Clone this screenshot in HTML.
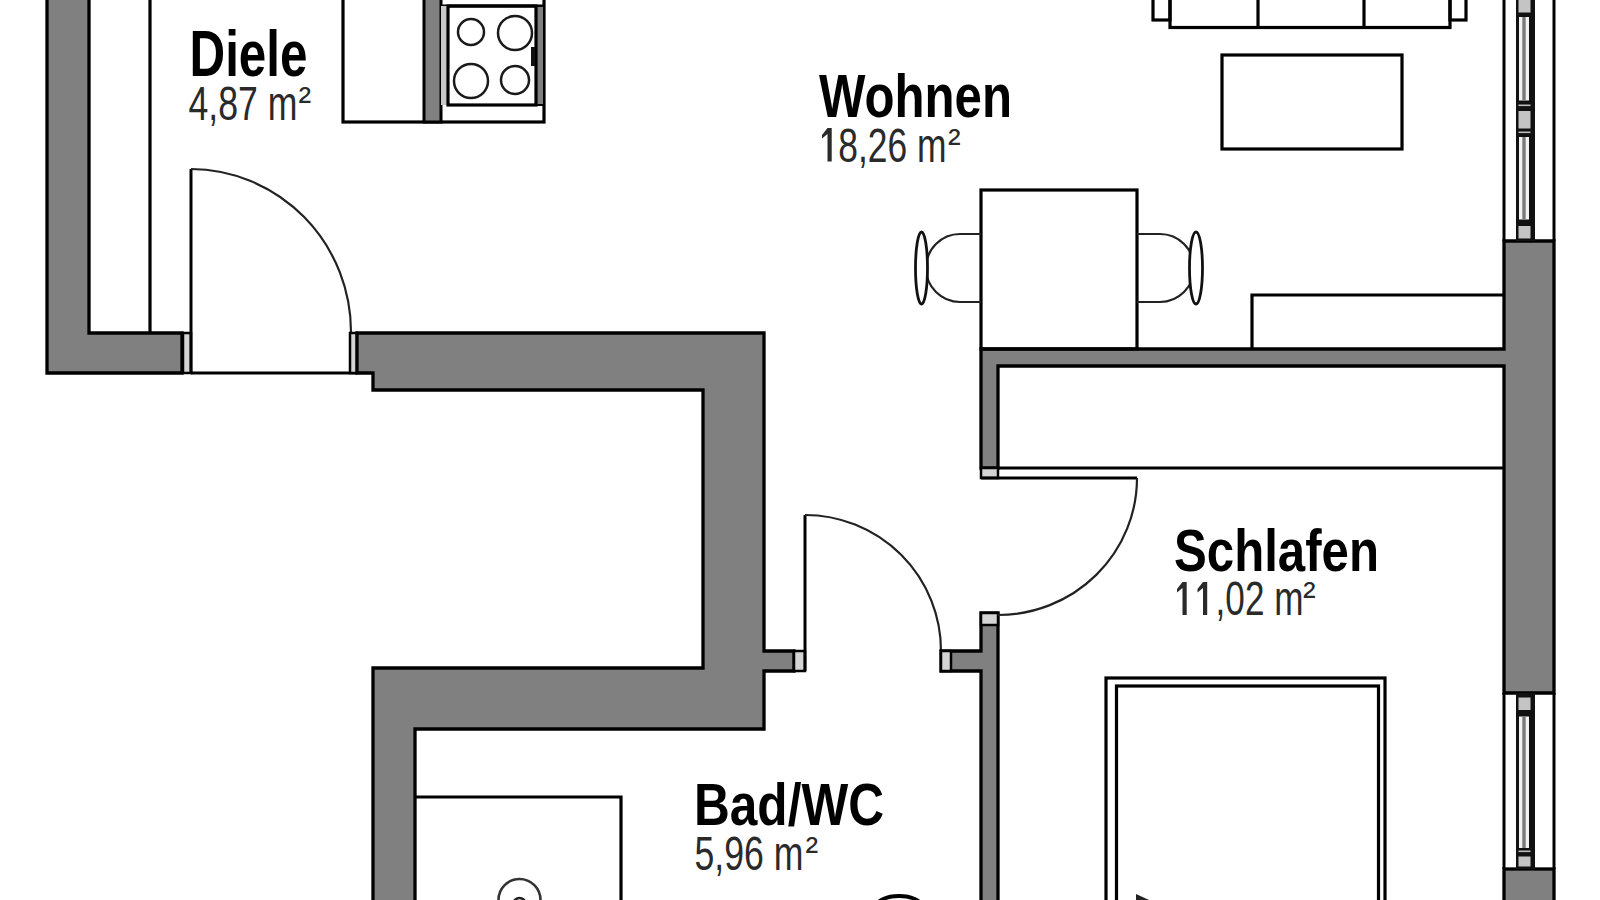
<!DOCTYPE html>
<html><head><meta charset="utf-8">
<style>
html,body{margin:0;padding:0;background:#fff;width:1600px;height:900px;overflow:hidden}
svg{display:block}
.w{fill:#808080;stroke:#000;stroke-width:3.3;stroke-linejoin:miter}
.j{fill:#d4d4d4;stroke:#000;stroke-width:2.5}
.l{fill:none;stroke:#000;stroke-width:3}
.t{fill:none;stroke:#000;stroke-width:3.2}
.c{fill:none;stroke:#1a1a1a;stroke-width:2.5}
.cb{fill:#fff;stroke:#111;stroke-width:2.8}
.a{fill:none;stroke:#222;stroke-width:2.2}
.nm{font-family:"Liberation Sans",sans-serif;font-weight:bold;fill:#000}
.ar{font-family:"Liberation Sans",sans-serif;fill:#2a2a2a}
.one{fill:#2a2a2a}
</style></head>
<body>
<svg width="1600" height="900" viewBox="0 0 1600 900">
<rect width="1600" height="900" fill="#fff"/>

<!-- Diele left wall -->
<polygon class="w" points="47,-10 89,-10 89,333 182,333 182,373 47,373"/>
<rect class="j" x="183" y="333" width="8" height="40"/>
<line class="t" x1="150" y1="-10" x2="150" y2="333"/>

<!-- Diele door -->
<line class="l" x1="191" y1="169" x2="191" y2="373"/>
<path class="a" d="M191,169 A161,163 0 0 1 351,332"/>
<line class="l" x1="191" y1="373" x2="357" y2="373"/>
<rect class="j" x="350" y="333" width="7" height="40"/>

<!-- big wall -->
<polygon class="w" points="357,333 764,333 764,651 794,651 794,671 764,671 764,729 415,729 415,910 373,910 373,668 703,668 703,390 373,390 373,373 357,373"/>
<rect class="j" x="794" y="651" width="11" height="20"/>

<!-- bath door -->
<line class="l" x1="805" y1="515" x2="805" y2="671"/>
<path class="a" d="M805,515 A136,136 0 0 1 941,651"/>

<!-- thin wall + stub -->
<polygon class="w" points="941,651 981,651 981,613 998,613 998,910 981,910 981,671 941,671"/>
<rect class="j" x="941" y="651" width="10" height="20"/>
<rect class="j" x="981" y="613" width="17" height="12"/>

<!-- closet wall -->
<polygon class="w" points="981,349 1504,349 1504,241 1554,241 1554,693 1504,693 1504,366 998,366 998,468 981,468"/>
<rect class="j" x="981" y="468" width="17" height="10"/>
<line class="t" x1="998" y1="468" x2="1504" y2="468"/>
<line class="l" x1="981" y1="478" x2="1137" y2="478"/>
<path class="a" d="M1137,478 A139,137 0 0 1 998,615"/>

<!-- right exterior wall -->
<rect class="w" x="1504" y="869" width="50" height="40"/>
<line class="l" x1="1504" y1="-10" x2="1504" y2="241"/>
<line class="l" x1="1554" y1="-10" x2="1554" y2="241"/>
<line class="l" x1="1504" y1="693" x2="1504" y2="869"/>
<line class="l" x1="1554" y1="693" x2="1554" y2="869"/>
<!-- windows -->
<rect x="1516" y="-10" width="19" height="251" fill="#111"/>
<rect x="1518.5" y="-10" width="12" height="22.5" fill="#c4c4c4"/>
<rect x="1518.5" y="111" width="12" height="17.5" fill="#c4c4c4"/>
<rect x="1518.5" y="226" width="12" height="12.5" fill="#c4c4c4"/>
<rect x="1519" y="17" width="10" height="83.5" fill="#f2f2f2"/>
<rect x="1522.3" y="17" width="3.4" height="83.5" fill="#7a7a7a"/>
<rect x="1519" y="137" width="10" height="82.5" fill="#f2f2f2"/>
<rect x="1522.3" y="137" width="3.4" height="82.5" fill="#7a7a7a"/>
<rect x="1518.5" y="104.5" width="12" height="1.6" fill="#bbb"/>
<rect x="1518.5" y="131.5" width="12" height="1.6" fill="#bbb"/>
<rect x="1516" y="693" width="19" height="176" fill="#111"/>
<rect x="1518.5" y="697.5" width="12" height="12.5" fill="#c4c4c4"/>
<rect x="1518.5" y="856.5" width="12" height="10.0" fill="#c4c4c4"/>
<rect x="1519" y="716.5" width="10" height="131.5" fill="#f2f2f2"/>
<rect x="1522.3" y="716.5" width="3.4" height="131.5" fill="#7a7a7a"/>
<rect x="1518.5" y="850.5" width="12" height="1.6" fill="#bbb"/>
<!-- kitchen counter -->
<rect class="t" x="343" y="-10" width="201" height="132"/>
<rect x="424" y="-10" width="17" height="132" fill="#808080" stroke="#000" stroke-width="3"/>
<line class="t" x1="441" y1="6" x2="544" y2="6"/>
<rect x="441" y="6" width="7" height="99" fill="#c8c8c8"/>
<rect x="536" y="6" width="8" height="99" fill="#808080" stroke="#000" stroke-width="2"/>
<rect class="t" x="448" y="6" width="88" height="99"/>
<circle class="c" cx="471" cy="32" r="13"/>
<circle class="c" cx="515" cy="33" r="17"/>
<circle class="c" cx="471" cy="81" r="17"/>
<circle class="c" cx="515" cy="80" r="14"/>
<rect x="531" y="47" width="4" height="19" fill="#111"/>

<!-- sofa -->
<rect class="t" x="1153" y="-10" width="17" height="30"/>
<rect class="t" x="1450" y="-10" width="16" height="30"/>
<rect class="t" x="1170" y="-10" width="280" height="37.5"/>
<line class="t" x1="1258" y1="-10" x2="1258" y2="27"/>
<line class="t" x1="1364" y1="-10" x2="1364" y2="27"/>
<!-- coffee table -->
<rect class="t" x="1222" y="55" width="180" height="94"/>

<!-- dining table -->
<rect class="t" x="981" y="190" width="156" height="159"/>
<path class="a" d="M981,234 H960 A34,34 0 0 0 960,302 H981"/>

<path class="a" d="M1137,234 H1160 A34,34 0 0 1 1160,302 H1137"/>
<ellipse class="cb" cx="921.5" cy="268" rx="6" ry="36"/>
<ellipse class="cb" cx="1196" cy="268" rx="6.5" ry="36"/>
<!-- sideboard -->
<polyline class="t" points="1252,349 1252,295 1504,295"/>

<!-- shower -->
<polyline class="t" points="415,797 621,797 621,910"/>
<circle cx="519.5" cy="900" r="21" fill="none" stroke="#333" stroke-width="2.6"/>
<circle cx="519.5" cy="904" r="6" fill="none" stroke="#222" stroke-width="2.5"/>
<!-- toilet -->
<ellipse cx="899" cy="907" rx="23" ry="11" fill="none" stroke="#000" stroke-width="3.8"/>

<!-- bed -->
<rect class="t" x="1106" y="678" width="279" height="240"/>
<rect class="t" x="1116.5" y="686" width="262" height="240"/>
<path d="M1136,894 L1160,905 L1136,905 Z" fill="#222"/>

<!-- labels -->
<text class="nm" x="189.5" y="76" font-size="64" textLength="118" lengthAdjust="spacingAndGlyphs">Diele</text>
<text class="ar" x="188.5" y="120" font-size="49" textLength="109" lengthAdjust="spacingAndGlyphs">4,87 m</text>
<text class="ar" x="298.5" y="120" font-size="38" dy="-6">²</text>
<text class="nm" x="819" y="116.5" font-size="62" textLength="193" lengthAdjust="spacingAndGlyphs">Wohnen</text>
<text class="ar" x="818.5" y="161.5" font-size="49" textLength="128" lengthAdjust="spacingAndGlyphs">&#x2007;8,26 m</text>
<text class="ar" x="948" y="161.5" font-size="38" dy="-6">²</text>
<path class="one" d="M827.5,128 H831.7 V161.5 H827.5 V134 L822.0,138.5 V135 Z"/>
<text class="nm" x="1174" y="570.5" font-size="60" textLength="205" lengthAdjust="spacingAndGlyphs">Schlafen</text>
<text class="ar" x="1176.5" y="615" font-size="49" textLength="127" lengthAdjust="spacingAndGlyphs">&#x2007;&#x2007;,02 m</text>
<text class="ar" x="1303" y="615" font-size="38" dy="-6">²</text>
<path class="one" d="M1182.5,582 H1186.7 V615 H1182.5 V588 L1177.0,592.5 V589 Z"/>
<path class="one" d="M1203,582 H1207.2 V615 H1203 V588 L1197.5,592.5 V589 Z"/>
<text class="nm" x="694" y="825" font-size="59" textLength="190" lengthAdjust="spacingAndGlyphs">Bad/WC</text>
<text class="ar" x="694.5" y="869.5" font-size="49" textLength="109" lengthAdjust="spacingAndGlyphs">5,96 m</text>
<text class="ar" x="805.5" y="869.5" font-size="38" dy="-6">²</text>
</svg>
</body></html>
